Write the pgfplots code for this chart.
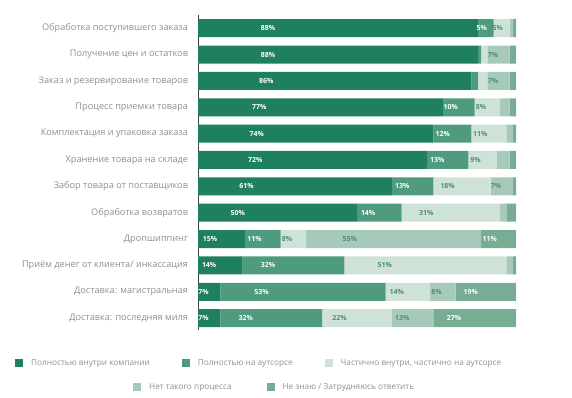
\documentclass[border=0pt]{standalone}
\usepackage{fontspec}
\setmainfont{Open Sans}
\usepackage{pgfplots}
\usepackage{pgfplotstable}
\pgfplotsset{compat=1.18}
\definecolor{cA}{HTML}{1E8060}
\definecolor{cB}{HTML}{4F9B7D}
\definecolor{cC}{HTML}{CFE2D8}
\definecolor{cD}{HTML}{A6C9BA}
\definecolor{cE}{HTML}{76AD94}
\definecolor{lbl}{HTML}{8F8F8F}
\definecolor{dlab}{HTML}{4E8F73}
\pgfplotsset{sq/.style={legend image code/.code={\fill[##1,draw=none] (0bp,-4bp) rectangle (8bp,4bp);}}}

\pgfplotstableread{
y a  b  c  d  e  la    lb    lc    ld    le
0 88 5  5  1  1  88\%  5\%   5\%   {}    {}
1 88 1  2  7  2  88\%  {}    {}    7\%   {}
2 86 2  3  7  2  86\%  {}    {}    7\%   {}
3 77 10 8  3  2  77\%  10\%  8\%   {}    {}
4 74 12 11 2  1  74\%  12\%  11\%  {}    {}
5 72 13 9  4  2  72\%  13\%  9\%   {}    {}
6 61 13 18 7  1  61\%  13\%  18\%  7\%   {}
7 50 14 31 2  3  50\%  14\%  31\%  {}    {}
8 15 11 8  55 11 15\%  11\%  8\%   55\%  11\%
9 14 32 51 2  1  14\%  32\%  51\%  {}    {}
10 7 52 14 8  19 7\%   53\%  14\%  8\%   19\%
11 7 32 22 13 26 7\%   32\%  22\%  13\%  27\%
}\data

\begin{document}
\begin{tikzpicture}
\path[use as bounding box] (0,0) rectangle (572bp,-398bp);
\begin{axis}[
  at={(198bp,-330bp)}, anchor=south west,
  scale only axis, width=318bp, height=315bp,
  clip=false,
  xbar stacked, bar width=18bp,
  xmin=0, xmax=100, ymin=-0.5, ymax=11.45, y dir=reverse,
  axis x line=none, axis y line*=left,
  y axis line style={draw=black!75, line width=0.7pt},
  ytick={0,...,11},
  yticklabels={Обработка поступившего заказа, Получение цен и остатков, Заказ и резервирование товаров, Процесс приемки товара, Комплектация и упаковка заказа, Хранение товара на складе, Забор товара от поставщиков, Обработка возвратов, Дропшиппинг, Приём денег от клиента/ инкассация, {Доставка: магистральная}, {Доставка: последняя миля}},
  major tick length=0pt,
  yticklabel style={font=\fontsize{9.2}{11}\selectfont, text=lbl, xshift=-6.5bp},
  point meta=explicit symbolic,
  visualization depends on={rawx \as \rawx},
  nodes near coords,
  nodes near coords align={center},
  every node near coord/.append style={font=\fontsize{7}{8}\selectfont\bfseries, anchor=center, xshift={-0.795bp*\rawx}},
  legend columns=3,
  legend style={at={(-0.5755,-0.1048)}, anchor=west, draw=none, fill=none, inner sep=0pt,
    font=\fontsize{8.3}{10}\selectfont, text=lbl,
    /tikz/every odd column/.append style={column sep=6bp},
    /tikz/every even column/.append style={column sep=30bp}},
]
\addplot[sq, fill=cA, draw=none, every node near coord/.append style={text=white}] table[x=a,y=y,meta=la]{\data};
\addplot[sq, fill=cB, draw=none, every node near coord/.append style={text=white}] table[x=b,y=y,meta=lb]{\data};
\addplot[sq, fill=cC, draw=none, every node near coord/.append style={text=dlab}] table[x=c,y=y,meta=lc]{\data};
\addplot[sq, fill=cD, draw=none, every node near coord/.append style={text=dlab}] table[x=d,y=y,meta=ld]{\data};
\addplot[sq, fill=cE, draw=none, every node near coord/.append style={text=white}] table[x=e,y=y,meta=le]{\data};
\legend{Полностью внутри компании, Полностью на аутсорсе, {Частично внутри, частично на аутсорсе}}
\end{axis}
\begin{axis}[
  at={(198bp,-330bp)}, anchor=south west,
  scale only axis, width=318bp, height=315bp,
  hide axis, xmin=0, xmax=1, ymin=0, ymax=1,
  legend columns=2,
  legend style={at={(-0.2044,-0.181)}, anchor=west, draw=none, fill=none, inner sep=0pt,
    font=\fontsize{8.3}{10}\selectfont, text=lbl,
    /tikz/every odd column/.append style={column sep=6bp},
    /tikz/every even column/.append style={column sep=33bp}},
]
\addlegendimage{sq, fill=cD}
\addlegendimage{sq, fill=cE}
\legend{Нет такого процесса, Не знаю / Затрудняюсь ответить}
\end{axis}
\end{tikzpicture}
\end{document}
